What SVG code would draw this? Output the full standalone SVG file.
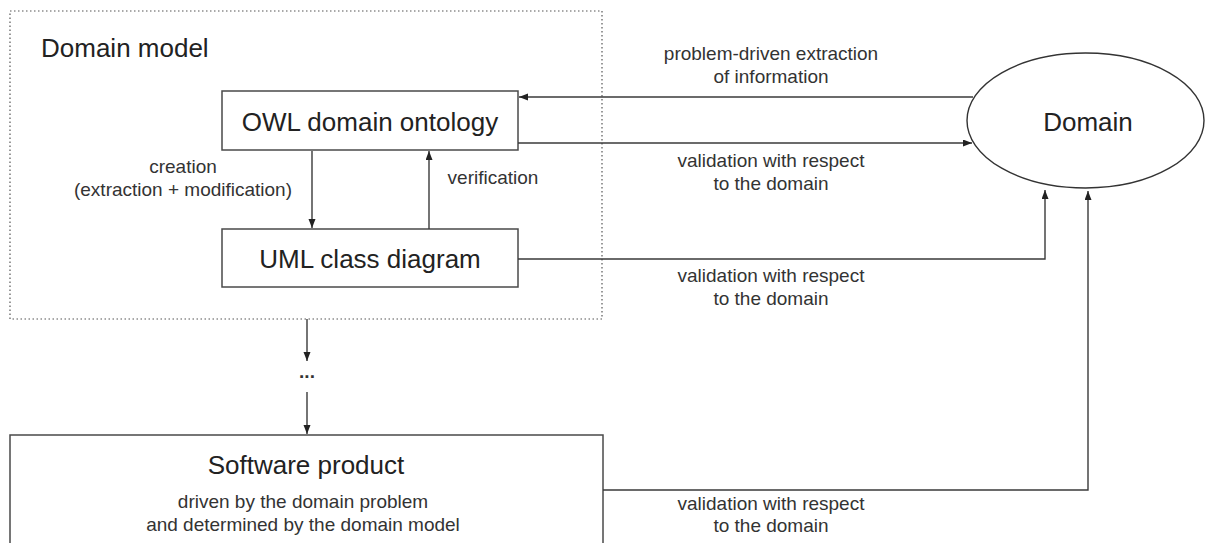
<svg xmlns="http://www.w3.org/2000/svg" width="1206" height="543" viewBox="0 0 1206 543">
<style>
.box{fill:#fff;stroke:#4a4a4a;stroke-width:1.5}
.big{font-family:"Liberation Sans",Arial,sans-serif;font-size:26px;fill:#222}
.lbl{font-family:"Liberation Sans",Arial,sans-serif;font-size:19px;fill:#333;text-anchor:middle}
.c{text-anchor:middle}
.con{fill:none;stroke:#3a3a3a;stroke-width:1.4}
</style>
<defs>
<marker id="ah" markerUnits="userSpaceOnUse" markerWidth="10" markerHeight="8" refX="9" refY="3.5" orient="auto">
<path d="M0,0 L9,3.5 L0,7 z" fill="#222"/>
</marker>
</defs>
<rect width="1206" height="543" fill="#fff"/>
<g id="domain-model">
<rect x="10" y="11" width="592" height="308" fill="none" stroke="#555" stroke-width="1.2" stroke-dasharray="1.5 2.5"/>
<text class="big" x="41" y="57">Domain model</text>
</g>
<g id="owl">
<rect class="box" x="222" y="91" width="296" height="59"/>
<text class="big c" x="370" y="130.5">OWL domain ontology</text>
</g>
<g id="uml">
<rect class="box" x="222" y="229" width="296" height="58"/>
<text class="big c" x="370" y="267.5">UML class diagram</text>
</g>
<g id="domain">
<ellipse cx="1085.5" cy="120.5" rx="118.5" ry="67.5" fill="#fff" stroke="#333" stroke-width="1.4"/>
<text class="big c" x="1088" y="131">Domain</text>
</g>
<g id="software">
<rect class="box" x="10" y="435" width="593" height="130"/>
<text class="big c" x="306" y="474">Software product</text>
<text class="lbl" x="303" y="508">driven by the domain problem</text>
<text class="lbl" x="303" y="531">and determined by the domain model</text>
</g>
<g id="connectors">
<path class="con" d="M973,97 H519" marker-end="url(#ah)"/>
<path class="con" d="M518,143 H972" marker-end="url(#ah)"/>
<path class="con" d="M518,259 H1045 V190" marker-end="url(#ah)"/>
<path class="con" d="M603,490 H1088 V191" marker-end="url(#ah)"/>
<path class="con" d="M312,151 V228" marker-end="url(#ah)"/>
<path class="con" d="M429,229 V151" marker-end="url(#ah)"/>
<path class="con" d="M307,319 V361" marker-end="url(#ah)"/>
<path class="con" d="M307,392 V434" marker-end="url(#ah)"/>
</g>
<g id="labels">
<text class="lbl" x="771" y="60">problem-driven extraction</text>
<text class="lbl" x="771" y="83">of information</text>
<text class="lbl" x="771" y="167">validation with respect</text>
<text class="lbl" x="771" y="190">to the domain</text>
<text class="lbl" x="771" y="282">validation with respect</text>
<text class="lbl" x="771" y="305">to the domain</text>
<text class="lbl" x="771" y="510">validation with respect</text>
<text class="lbl" x="771" y="532">to the domain</text>
<text class="lbl" x="183" y="173">creation</text>
<text class="lbl" x="183" y="196">(extraction + modification)</text>
<text class="lbl" x="493" y="184">verification</text>
<text class="lbl" x="307" y="378" font-weight="bold">...</text>
</g>
</svg>
